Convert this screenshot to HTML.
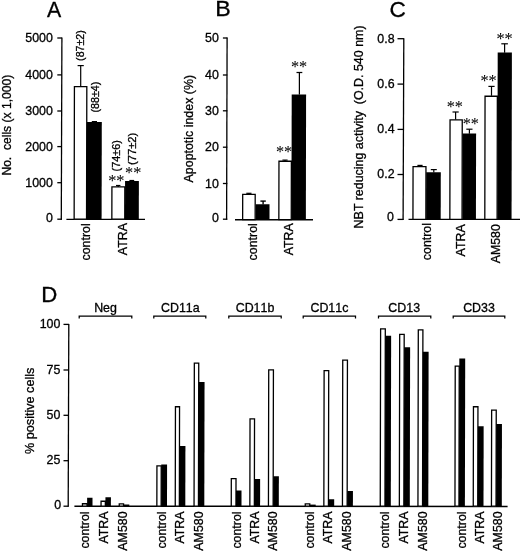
<!DOCTYPE html>
<html lang="en"><head><meta charset="utf-8"><title>Figure</title>
<style>html,body{margin:0;padding:0;background:#fff}svg{display:block}text{font-family:"Liberation Sans",Arial,Helvetica,sans-serif;fill:#000;stroke:#000;stroke-width:0.3px}</style>
</head><body>
<svg width="520" height="552" viewBox="0 0 520 552">
<rect width="520" height="552" fill="#fff"/>
<g id="panelA">
<text transform="translate(46.9,16.5) scale(1.0,1)" font-size="21.3">A</text>
<line x1="61.9" y1="37.5" x2="61.3" y2="219.79999999999998" stroke="#000" stroke-width="1.3"/>
<line x1="57.3" y1="38.0" x2="61.9" y2="38.0" stroke="#000" stroke-width="1.3"/>
<text x="52.9" y="42.1" font-size="12.4" text-anchor="end">5000</text>
<line x1="57.3" y1="74.9" x2="61.9" y2="74.9" stroke="#000" stroke-width="1.3"/>
<text x="52.9" y="79.0" font-size="12.4" text-anchor="end">4000</text>
<line x1="57.3" y1="111.0" x2="61.9" y2="111.0" stroke="#000" stroke-width="1.3"/>
<text x="52.9" y="115.1" font-size="12.4" text-anchor="end">3000</text>
<line x1="57.3" y1="146.6" x2="61.9" y2="146.6" stroke="#000" stroke-width="1.3"/>
<text x="52.9" y="150.7" font-size="12.4" text-anchor="end">2000</text>
<line x1="57.3" y1="182.7" x2="61.9" y2="182.7" stroke="#000" stroke-width="1.3"/>
<text x="52.9" y="186.79999999999998" font-size="12.4" text-anchor="end">1000</text>
<line x1="57.3" y1="219.2" x2="61.9" y2="219.2" stroke="#000" stroke-width="1.3"/>
<text x="52.9" y="221.89999999999998" font-size="12.4" text-anchor="end">0</text>
<line x1="66.4" y1="219.39999999999998" x2="145" y2="219.39999999999998" stroke="#000" stroke-width="1.4"/>
<text transform="translate(10.6,175.6) rotate(-90)" font-size="12.1" text-anchor="start" xml:space="preserve">No.  cells (x 1,000)</text>
<polygon points="74.15,219.20 74.42,86.65 86.82,86.65 86.55,219.20" fill="#fff" stroke="#000" stroke-width="1.3"/>
<line x1="80.7" y1="65.6" x2="80.7" y2="86.0" stroke="#000" stroke-width="1.2"/>
<line x1="77.60000000000001" y1="65.6" x2="83.8" y2="65.6" stroke="#000" stroke-width="1.2"/>
<polygon points="86.80,219.20 86.99,122.10 101.79,122.10 101.60,219.20" fill="#000"/>
<line x1="94.4" y1="121.6" x2="94.4" y2="122.5" stroke="#000" stroke-width="1.2"/>
<line x1="91.80000000000001" y1="121.6" x2="97.0" y2="121.6" stroke="#000" stroke-width="1.2"/>
<polygon points="111.85,219.20 111.92,186.95 124.82,186.95 124.75,219.20" fill="#fff" stroke="#000" stroke-width="1.3"/>
<line x1="118.2" y1="185.5" x2="118.2" y2="187" stroke="#000" stroke-width="1.2"/>
<line x1="116.0" y1="185.5" x2="120.4" y2="185.5" stroke="#000" stroke-width="1.2"/>
<polygon points="125.00,219.20 125.08,181.00 138.88,181.00 138.80,219.20" fill="#000"/>
<line x1="131.8" y1="180.5" x2="131.8" y2="181.6" stroke="#000" stroke-width="1.2"/>
<line x1="129.4" y1="180.5" x2="134.20000000000002" y2="180.5" stroke="#000" stroke-width="1.2"/>
<text transform="translate(84.2,60.9) rotate(-90)" font-size="10.65" text-anchor="start">(87±2)</text>
<text transform="translate(99.0,112.5) rotate(-90)" font-size="10.65" text-anchor="start">(88±4)</text>
<text transform="translate(119.9,171.4) rotate(-90)" font-size="10.85" text-anchor="start">(74±6)</text>
<text transform="translate(135.9,165.0) rotate(-90)" font-size="11.2" text-anchor="start">(77±2)</text>
<text x="116.30" y="186.39" font-size="16.3" text-anchor="middle" style="font-family:'Liberation Serif',serif;stroke-width:0.05px">**</text>
<text x="133.20" y="178.39" font-size="16.3" text-anchor="middle" style="font-family:'Liberation Serif',serif;stroke-width:0.05px">**</text>
<text transform="translate(90.4,223.3) rotate(-90)" font-size="12.4" text-anchor="end">control</text>
<text transform="translate(126.5,223.0) rotate(-90)" font-size="12.4" text-anchor="end">ATRA</text>
</g>
<g id="panelB">
<text transform="translate(215.2,16.4) scale(1.09,1)" font-size="21.3">B</text>
<line x1="227.1" y1="37.5" x2="226.6" y2="219.79999999999998" stroke="#000" stroke-width="1.3"/>
<line x1="222.9" y1="38.0" x2="227.29999999999998" y2="38.0" stroke="#000" stroke-width="1.3"/>
<text x="218.8" y="42.2" font-size="12.4" text-anchor="end">50</text>
<line x1="222.9" y1="75.0" x2="227.29999999999998" y2="75.0" stroke="#000" stroke-width="1.3"/>
<text x="218.8" y="79.2" font-size="12.4" text-anchor="end">40</text>
<line x1="222.9" y1="110.8" x2="227.29999999999998" y2="110.8" stroke="#000" stroke-width="1.3"/>
<text x="218.8" y="115.0" font-size="12.4" text-anchor="end">30</text>
<line x1="222.9" y1="147.2" x2="227.29999999999998" y2="147.2" stroke="#000" stroke-width="1.3"/>
<text x="218.8" y="151.39999999999998" font-size="12.4" text-anchor="end">20</text>
<line x1="222.9" y1="183.5" x2="227.29999999999998" y2="183.5" stroke="#000" stroke-width="1.3"/>
<text x="218.8" y="187.7" font-size="12.4" text-anchor="end">10</text>
<line x1="222.9" y1="219.2" x2="227.29999999999998" y2="219.2" stroke="#000" stroke-width="1.3"/>
<text x="218.8" y="221.99999999999997" font-size="12.4" text-anchor="end">0</text>
<line x1="235" y1="219.7" x2="313" y2="219.7" stroke="#000" stroke-width="1.4"/>
<text transform="translate(193.3,182.4) rotate(-90)" font-size="12.4" text-anchor="start">Apoptotic index (%)</text>
<polygon points="242.65,219.60 242.70,194.45 255.20,194.45 255.15,219.60" fill="#fff" stroke="#000" stroke-width="1.3"/>
<line x1="248.9" y1="193.3" x2="248.9" y2="194" stroke="#000" stroke-width="1.2"/>
<line x1="246.3" y1="193.3" x2="251.5" y2="193.3" stroke="#000" stroke-width="1.2"/>
<polygon points="255.60,219.60 255.63,204.20 269.53,204.20 269.50,219.60" fill="#000"/>
<line x1="263.1" y1="201.1" x2="263.1" y2="204.6" stroke="#000" stroke-width="1.4"/>
<line x1="260.40000000000003" y1="201.1" x2="265.8" y2="201.1" stroke="#000" stroke-width="1.4"/>
<polygon points="278.85,219.60 278.97,161.25 291.37,161.25 291.25,219.60" fill="#fff" stroke="#000" stroke-width="1.3"/>
<line x1="285.0" y1="160.1" x2="285.0" y2="161" stroke="#000" stroke-width="1.2"/>
<line x1="282.4" y1="160.1" x2="287.6" y2="160.1" stroke="#000" stroke-width="1.2"/>
<polygon points="291.45,219.60 291.70,94.50 306.10,94.50 305.85,219.60" fill="#000"/>
<line x1="299.4" y1="72.5" x2="299.4" y2="94.6" stroke="#000" stroke-width="1.25"/>
<line x1="296.5" y1="72.5" x2="302.29999999999995" y2="72.5" stroke="#000" stroke-width="1.25"/>
<text x="299.10" y="72.39" font-size="16.3" text-anchor="middle" style="font-family:'Liberation Serif',serif;stroke-width:0.05px">**</text>
<text x="284.05" y="157.39" font-size="16.3" text-anchor="middle" style="font-family:'Liberation Serif',serif;stroke-width:0.05px">**</text>
<text transform="translate(257.4,223.2) rotate(-90)" font-size="12.4" text-anchor="end">control</text>
<text transform="translate(293.0,223.2) rotate(-90)" font-size="12.4" text-anchor="end">ATRA</text>
</g>
<g id="panelC">
<text transform="translate(389.4,17.0) scale(1.0,1)" font-size="22.6">C</text>
<line x1="403.8" y1="38.2" x2="403.1" y2="220.0" stroke="#000" stroke-width="1.3"/>
<line x1="397.5" y1="38.7" x2="403.90000000000003" y2="38.7" stroke="#000" stroke-width="1.3"/>
<text x="394.6" y="42.6" font-size="12.4" text-anchor="end">0.8</text>
<line x1="397.5" y1="84.1" x2="403.90000000000003" y2="84.1" stroke="#000" stroke-width="1.3"/>
<text x="394.6" y="88.0" font-size="12.4" text-anchor="end">0.6</text>
<line x1="397.5" y1="129.4" x2="403.90000000000003" y2="129.4" stroke="#000" stroke-width="1.3"/>
<text x="394.6" y="133.3" font-size="12.4" text-anchor="end">0.4</text>
<line x1="397.5" y1="174.5" x2="403.40000000000003" y2="174.5" stroke="#000" stroke-width="1.3"/>
<text x="394.6" y="178.4" font-size="12.4" text-anchor="end">0.2</text>
<line x1="397.5" y1="219.4" x2="403.40000000000003" y2="219.4" stroke="#000" stroke-width="1.3"/>
<text x="394.0" y="221.4" font-size="12.4" text-anchor="end">0</text>
<line x1="408.5" y1="219.4" x2="520" y2="219.4" stroke="#000" stroke-width="1.4"/>
<text transform="translate(362.7,228.4) rotate(-90)" font-size="12.45" text-anchor="start" xml:space="preserve">NBT reducing activity  (O.D. 540 nm)</text>
<polygon points="412.95,219.40 413.06,166.65 425.96,166.65 425.85,219.40" fill="#fff" stroke="#000" stroke-width="1.3"/>
<line x1="420.0" y1="165.4" x2="420.0" y2="166.6" stroke="#000" stroke-width="1.2"/>
<line x1="417.4" y1="165.4" x2="422.6" y2="165.4" stroke="#000" stroke-width="1.2"/>
<polygon points="426.10,219.40 426.19,172.20 440.79,172.20 440.70,219.40" fill="#000"/>
<line x1="433.8" y1="169.6" x2="433.8" y2="172.5" stroke="#000" stroke-width="1.2"/>
<line x1="430.8" y1="169.6" x2="436.8" y2="169.6" stroke="#000" stroke-width="1.2"/>
<polygon points="449.85,219.40 450.05,119.85 462.25,119.85 462.05,219.40" fill="#fff" stroke="#000" stroke-width="1.3"/>
<line x1="455.6" y1="112.0" x2="455.6" y2="119.4" stroke="#000" stroke-width="1.2"/>
<line x1="452.5" y1="112.0" x2="458.70000000000005" y2="112.0" stroke="#000" stroke-width="1.2"/>
<polygon points="462.43,219.40 462.60,133.60 476.10,133.60 475.93,219.40" fill="#000"/>
<line x1="469.4" y1="129.2" x2="469.4" y2="133.8" stroke="#000" stroke-width="1.2"/>
<line x1="466.29999999999995" y1="129.2" x2="472.5" y2="129.2" stroke="#000" stroke-width="1.2"/>
<polygon points="484.80,219.40 485.05,96.25 497.35,96.25 497.10,219.40" fill="#fff" stroke="#000" stroke-width="1.3"/>
<line x1="491.5" y1="86.4" x2="491.5" y2="95.8" stroke="#000" stroke-width="1.2"/>
<line x1="488.4" y1="86.4" x2="494.6" y2="86.4" stroke="#000" stroke-width="1.2"/>
<polygon points="497.37,219.40 497.70,52.50 511.90,52.50 511.57,219.40" fill="#000"/>
<line x1="504.6" y1="43.8" x2="504.6" y2="52.7" stroke="#000" stroke-width="1.2"/>
<line x1="501.3" y1="43.8" x2="507.90000000000003" y2="43.8" stroke="#000" stroke-width="1.2"/>
<text x="454.80" y="111.69" font-size="16.3" text-anchor="middle" style="font-family:'Liberation Serif',serif;stroke-width:0.05px">**</text>
<text x="470.80" y="128.89" font-size="16.3" text-anchor="middle" style="font-family:'Liberation Serif',serif;stroke-width:0.05px">**</text>
<text x="488.60" y="85.69" font-size="16.3" text-anchor="middle" style="font-family:'Liberation Serif',serif;stroke-width:0.05px">**</text>
<text x="504.55" y="43.89" font-size="16.3" text-anchor="middle" style="font-family:'Liberation Serif',serif;stroke-width:0.05px">**</text>
<text transform="translate(430.7,223.0) rotate(-90)" font-size="12.4" text-anchor="end">control</text>
<text transform="translate(465.2,224.3) rotate(-90)" font-size="12.4" text-anchor="end">ATRA</text>
<text transform="translate(500.4,224.1) rotate(-90)" font-size="12.4" text-anchor="end">AM580</text>
</g>
<g id="panelD">
<text transform="translate(41.3,301.5) scale(1.045,1)" font-size="21.3">D</text>
<line x1="68.8" y1="323.9" x2="68.2" y2="506.8" stroke="#000" stroke-width="1.3"/>
<line x1="63.5" y1="324.4" x2="69.0" y2="324.4" stroke="#000" stroke-width="1.3"/>
<text x="60.4" y="328.09999999999997" font-size="12.4" text-anchor="end">100</text>
<line x1="63.5" y1="370.0" x2="69.0" y2="370.0" stroke="#000" stroke-width="1.3"/>
<text x="60.4" y="373.7" font-size="12.4" text-anchor="end">75</text>
<line x1="63.5" y1="415.3" x2="69.0" y2="415.3" stroke="#000" stroke-width="1.3"/>
<text x="60.4" y="419.0" font-size="12.4" text-anchor="end">50</text>
<line x1="63.5" y1="460.7" x2="68.6" y2="460.7" stroke="#000" stroke-width="1.3"/>
<text x="60.4" y="464.4" font-size="12.4" text-anchor="end">25</text>
<line x1="63.5" y1="506.2" x2="68.6" y2="506.2" stroke="#000" stroke-width="1.3"/>
<text x="61.199999999999996" y="508.7" font-size="12.4" text-anchor="end">0</text>
<line x1="74.4" y1="506.3" x2="507.6" y2="506.45" stroke="#000" stroke-width="1.5"/>
<text transform="translate(33.7,454.0) rotate(-90)" font-size="12.65" text-anchor="start" style="font-kerning:none">% positive cells</text>
<polyline points="79.2,318.6 79.2,316.15 131.8,316.15 131.8,318.6" fill="none" stroke="#000" stroke-width="1.25"/>
<text x="105.5" y="312.3" font-size="12.4" text-anchor="middle" style="font-kerning:none">Neg</text>
<polyline points="153.8,318.6 153.8,316.15 205.8,316.15 205.8,318.6" fill="none" stroke="#000" stroke-width="1.25"/>
<text x="180.3" y="312.3" font-size="12.4" text-anchor="middle" style="font-kerning:none">CD11a</text>
<polyline points="228.8,318.6 228.8,316.15 281.2,316.15 281.2,318.6" fill="none" stroke="#000" stroke-width="1.25"/>
<text x="255.0" y="312.3" font-size="12.4" text-anchor="middle" style="font-kerning:none">CD11b</text>
<polyline points="303.2,318.6 303.2,316.15 355.5,316.15 355.5,318.6" fill="none" stroke="#000" stroke-width="1.25"/>
<text x="329.4" y="312.3" font-size="12.4" text-anchor="middle" style="font-kerning:none">CD11c</text>
<polyline points="378.5,318.6 378.5,316.15 430.8,316.15 430.8,318.6" fill="none" stroke="#000" stroke-width="1.25"/>
<text x="404.2" y="312.3" font-size="12.4" text-anchor="middle" style="font-kerning:none">CD13</text>
<polyline points="453.2,318.6 453.2,316.15 504.8,316.15 504.8,318.6" fill="none" stroke="#000" stroke-width="1.25"/>
<text x="479.0" y="312.3" font-size="12.4" text-anchor="middle" style="font-kerning:none">CD33</text>
<polygon points="82.45,506.20 82.46,503.75 87.06,503.75 87.05,506.20" fill="#fff" stroke="#000" stroke-width="1.3"/>
<polygon points="87.10,506.20 87.12,497.80 92.52,497.80 92.50,506.20" fill="#000"/>
<polygon points="101.05,506.20 101.06,501.25 105.36,501.25 105.35,506.20" fill="#fff" stroke="#000" stroke-width="1.3"/>
<polygon points="105.40,506.20 105.42,497.20 110.92,497.20 110.90,506.20" fill="#000"/>
<polygon points="119.25,506.20 119.26,503.85 123.56,503.85 123.55,506.20" fill="#fff" stroke="#000" stroke-width="1.3"/>
<polygon points="123.60,506.20 123.60,504.50 129.30,504.50 129.30,506.20" fill="#000"/>
<polygon points="156.85,506.20 156.93,465.95 161.23,465.95 161.15,506.20" fill="#fff" stroke="#000" stroke-width="1.3"/>
<polygon points="161.20,506.20 161.28,464.40 167.08,464.40 167.00,506.20" fill="#000"/>
<polygon points="175.25,506.20 175.45,406.75 179.55,406.75 179.35,506.20" fill="#fff" stroke="#000" stroke-width="1.3"/>
<polygon points="179.40,506.20 179.52,446.00 185.42,446.00 185.30,506.20" fill="#000"/>
<polygon points="194.05,506.20 194.34,363.05 198.74,363.05 198.45,506.20" fill="#fff" stroke="#000" stroke-width="1.3"/>
<polygon points="198.50,506.20 198.75,382.00 204.55,382.00 204.30,506.20" fill="#000"/>
<polygon points="231.25,506.20 231.31,478.65 236.01,478.65 235.95,506.20" fill="#fff" stroke="#000" stroke-width="1.3"/>
<polygon points="236.00,506.20 236.03,490.40 241.53,490.40 241.50,506.20" fill="#000"/>
<polygon points="249.85,506.20 250.03,418.85 254.53,418.85 254.35,506.20" fill="#fff" stroke="#000" stroke-width="1.3"/>
<polygon points="254.40,506.20 254.45,479.00 260.15,479.00 260.10,506.20" fill="#000"/>
<polygon points="268.45,506.20 268.72,369.95 273.42,369.95 273.15,506.20" fill="#fff" stroke="#000" stroke-width="1.3"/>
<polygon points="273.20,506.20 273.26,476.30 278.86,476.30 278.80,506.20" fill="#000"/>
<polygon points="305.25,506.20 305.26,503.95 309.76,503.95 309.75,506.20" fill="#fff" stroke="#000" stroke-width="1.3"/>
<polygon points="309.80,506.20 309.80,504.60 315.70,504.60 315.70,506.20" fill="#000"/>
<polygon points="323.85,506.20 324.12,370.65 328.72,370.65 328.45,506.20" fill="#fff" stroke="#000" stroke-width="1.3"/>
<polygon points="328.50,506.20 328.51,499.20 334.21,499.20 334.20,506.20" fill="#000"/>
<polygon points="342.45,506.20 342.74,360.15 347.44,360.15 347.15,506.20" fill="#fff" stroke="#000" stroke-width="1.3"/>
<polygon points="347.20,506.20 347.23,490.90 352.93,490.90 352.90,506.20" fill="#000"/>
<polygon points="380.25,506.20 380.61,328.95 385.31,328.95 384.95,506.20" fill="#fff" stroke="#000" stroke-width="1.3"/>
<polygon points="385.00,506.20 385.34,335.70 391.14,335.70 390.80,506.20" fill="#000"/>
<polygon points="399.35,506.20 399.69,334.45 404.19,334.45 403.85,506.20" fill="#fff" stroke="#000" stroke-width="1.3"/>
<polygon points="403.90,506.20 404.22,347.30 410.12,347.30 409.80,506.20" fill="#000"/>
<polygon points="417.95,506.20 418.30,329.85 422.90,329.85 422.55,506.20" fill="#fff" stroke="#000" stroke-width="1.3"/>
<polygon points="422.60,506.20 422.91,351.80 428.61,351.80 428.30,506.20" fill="#000"/>
<polygon points="454.95,506.20 455.23,366.15 459.23,366.15 458.95,506.20" fill="#fff" stroke="#000" stroke-width="1.3"/>
<polygon points="459.00,506.20 459.30,358.50 465.20,358.50 464.90,506.20" fill="#000"/>
<polygon points="473.25,506.20 473.45,406.75 477.95,406.75 477.75,506.20" fill="#fff" stroke="#000" stroke-width="1.3"/>
<polygon points="477.80,506.20 477.96,426.20 483.66,426.20 483.50,506.20" fill="#000"/>
<polygon points="491.45,506.20 491.64,410.15 496.24,410.15 496.05,506.20" fill="#fff" stroke="#000" stroke-width="1.3"/>
<polygon points="496.10,506.20 496.26,424.00 501.96,424.00 501.80,506.20" fill="#000"/>
<text transform="translate(89.4,511.4) rotate(-90)" font-size="12.4" text-anchor="end">control</text>
<text transform="translate(108.1,511.4) rotate(-90)" font-size="12.4" text-anchor="end">ATRA</text>
<text transform="translate(126.7,511.4) rotate(-90)" font-size="12.4" text-anchor="end">AM580</text>
<text transform="translate(165.6,511.4) rotate(-90)" font-size="12.4" text-anchor="end">control</text>
<text transform="translate(183.7,511.4) rotate(-90)" font-size="12.4" text-anchor="end">ATRA</text>
<text transform="translate(202.6,511.4) rotate(-90)" font-size="12.4" text-anchor="end">AM580</text>
<text transform="translate(240.7,511.4) rotate(-90)" font-size="12.4" text-anchor="end">control</text>
<text transform="translate(259.3,511.4) rotate(-90)" font-size="12.4" text-anchor="end">ATRA</text>
<text transform="translate(277.2,511.4) rotate(-90)" font-size="12.4" text-anchor="end">AM580</text>
<text transform="translate(314.4,511.4) rotate(-90)" font-size="12.4" text-anchor="end">control</text>
<text transform="translate(331.7,511.4) rotate(-90)" font-size="12.4" text-anchor="end">ATRA</text>
<text transform="translate(350.7,511.4) rotate(-90)" font-size="12.4" text-anchor="end">AM580</text>
<text transform="translate(389.2,511.4) rotate(-90)" font-size="12.4" text-anchor="end">control</text>
<text transform="translate(407.7,511.4) rotate(-90)" font-size="12.4" text-anchor="end">ATRA</text>
<text transform="translate(426.5,511.4) rotate(-90)" font-size="12.4" text-anchor="end">AM580</text>
<text transform="translate(466.2,511.4) rotate(-90)" font-size="12.4" text-anchor="end">control</text>
<text transform="translate(484.0,511.4) rotate(-90)" font-size="12.4" text-anchor="end">ATRA</text>
<text transform="translate(501.8,511.4) rotate(-90)" font-size="12.4" text-anchor="end">AM580</text>
</g>
</svg>
</body></html>
